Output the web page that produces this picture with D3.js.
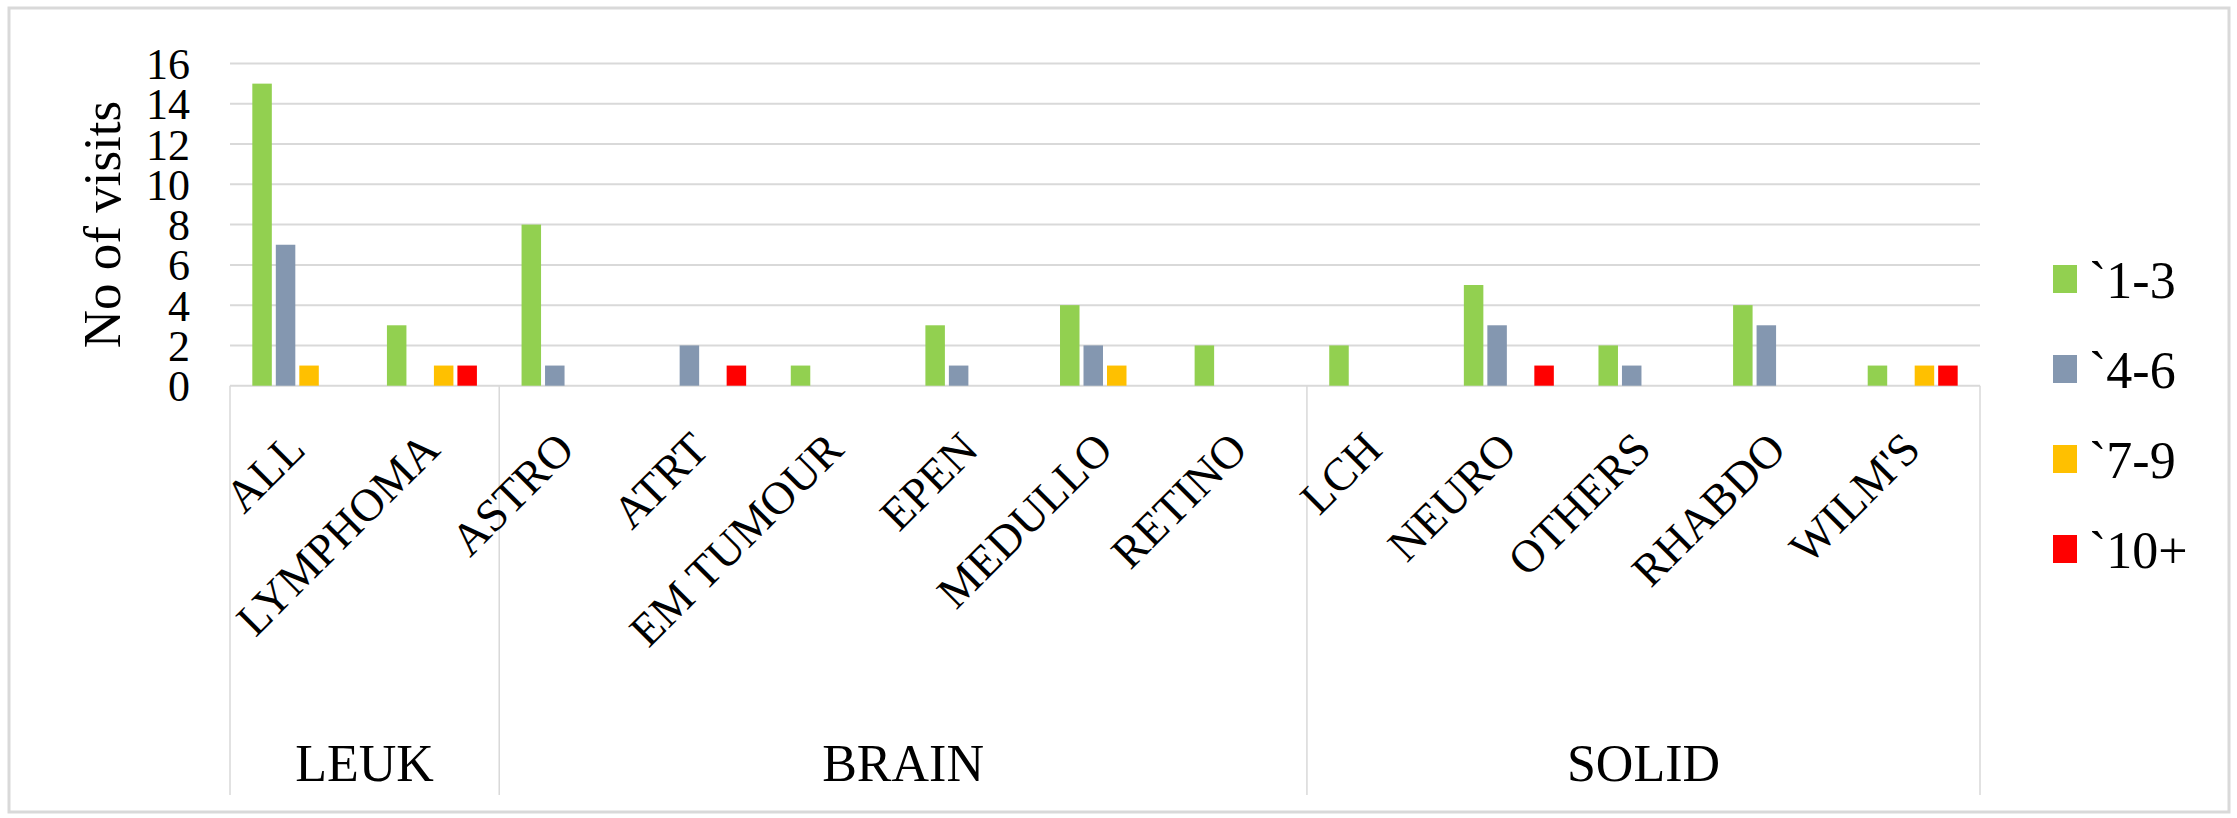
<!DOCTYPE html>
<html>
<head>
<meta charset="utf-8">
<script src="https://cdn.jsdelivr.net/npm/d3@7"></script>
<style>
  html, body { margin: 0; padding: 0; background: #fff; }
  svg { display: block; }
  text { font-family: "Liberation Serif", "Times New Roman", serif; fill: #000; }
</style>
</head>
<body>
<svg id="chart" width="2237" height="818"></svg>
<script>
// Cancer types on the x axis, with the diagnosis group each belongs to
const categories = ["ALL", "LYMPHOMA", "ASTRO", "ATRT", "EM TUMOUR", "EPEN", "MEDULLO", "RETINO", "LCH", "NEURO", "OTHERS", "RHABDO", "WILM'S"];
const categoryGroups = ["LEUK", "LEUK", "BRAIN", "BRAIN", "BRAIN", "BRAIN", "BRAIN", "BRAIN", "SOLID", "SOLID", "SOLID", "SOLID", "SOLID"];
const groups = ["LEUK", "BRAIN", "SOLID"];

// Number of visits, one array per visit-count band
const seriesNames = ["`1-3", "`4-6", "`7-9", "`10+"];
const visits1to3  = [15, 3, 8, 0, 1, 3, 4, 2, 2, 5, 2, 4, 1];
const visits4to6  = [7, 0, 1, 2, 0, 1, 2, 0, 0, 3, 1, 3, 0];
const visits7to9  = [1, 1, 0, 0, 0, 0, 1, 0, 0, 0, 0, 0, 1];
const visits10up  = [0, 1, 0, 1, 0, 0, 0, 0, 0, 1, 0, 0, 1];
const seriesColors = ["#92D050", "#8497B0", "#FFC000", "#FF0000"];

const yTicks = [0, 2, 4, 6, 8, 10, 12, 14, 16];

const seriesValues = [visits1to3, visits4to6, visits7to9, visits10up];

const svg = d3.select("#chart");
const gridColor = "#d9d9d9";

// Plot area
const plot = { left: 230, right: 1980, top: 63.5, bottom: 385.7 };
const axisBottom = 795;

// Outer chart border
svg.append("rect")
  .attr("x", 9).attr("y", 8)
  .attr("width", 2220).attr("height", 804)
  .attr("fill", "#fff")
  .attr("stroke", gridColor)
  .attr("stroke-width", 3);

const x0 = d3.scaleBand()
  .domain(categories)
  .range([plot.left, plot.right])
  .padding(0);

const x1 = d3.scaleBand()
  .domain(seriesNames)
  .range([0, x0.bandwidth()])
  .paddingInner(0.17)
  .paddingOuter(0.95);

const y = d3.scaleLinear()
  .domain([0, 16])
  .range([plot.bottom, plot.top]);

// Horizontal gridlines
svg.append("g")
  .selectAll("line")
  .data(yTicks)
  .join("line")
  .attr("x1", plot.left).attr("x2", plot.right)
  .attr("y1", d => y(d)).attr("y2", d => y(d))
  .attr("stroke", gridColor)
  .attr("stroke-width", 2);

// Y axis tick labels
const yAxis = d3.axisLeft(y).tickValues(yTicks).tickSize(0).tickPadding(0);
const yAxisG = svg.append("g")
  .attr("transform", `translate(${plot.left - 40},0)`)
  .call(yAxis);
yAxisG.select(".domain").remove();
yAxisG.selectAll("text")
  .attr("font-family", "Liberation Serif, Times New Roman, serif")
  .attr("font-size", 44)
  .attr("fill", "#000")
  .attr("dy", "0.34em");

// Y axis title
svg.append("text")
  .attr("transform", `translate(120,${(plot.top + plot.bottom) / 2}) rotate(-90)`)
  .attr("text-anchor", "middle")
  .attr("font-size", 53)
  .text("No of visits");

// Bars
const barData = [];
categories.forEach((c, i) => {
  seriesNames.forEach((s, j) => {
    barData.push({ category: c, series: s, value: seriesValues[j][i], color: seriesColors[j] });
  });
});

svg.append("g")
  .selectAll("rect")
  .data(barData.filter(d => d.value > 0))
  .join("rect")
  .attr("x", d => x0(d.category) + x1(d.series))
  .attr("y", d => y(d.value))
  .attr("width", x1.bandwidth())
  .attr("height", d => y(0) - y(d.value))
  .attr("fill", d => d.color);

// Category axis: vertical separators between groups
const groupBounds = groups.map(g => {
  const idx = categories.map((c, i) => i).filter(i => categoryGroups[i] === g);
  const first = categories[idx[0]];
  const last = categories[idx[idx.length - 1]];
  return { name: g, x0: x0(first), x1: x0(last) + x0.bandwidth() };
});
const sepXs = [groupBounds[0].x0].concat(groupBounds.map(b => b.x1));

svg.append("g")
  .selectAll("line")
  .data(sepXs)
  .join("line")
  .attr("x1", d => d).attr("x2", d => d)
  .attr("y1", y(0)).attr("y2", axisBottom)
  .attr("stroke", gridColor)
  .attr("stroke-width", 1.5);

// Rotated category labels
svg.append("g")
  .selectAll("text")
  .data(categories)
  .join("text")
  .attr("transform", d => `translate(${x0(d) + x0.bandwidth() / 2 + 10},${y(0) + 66}) rotate(-45)`)
  .attr("text-anchor", "end")
  .attr("font-size", 46)
  .text(d => d);

// Group labels
svg.append("g")
  .selectAll("text")
  .data(groupBounds)
  .join("text")
  .attr("x", d => (d.x0 + d.x1) / 2)
  .attr("y", 781)
  .attr("text-anchor", "middle")
  .attr("font-size", 52)
  .text(d => d.name);

// Legend
const legend = svg.append("g")
  .selectAll("g")
  .data(seriesNames)
  .join("g")
  .attr("transform", (d, i) => `translate(2053,${279 + i * 90})`);

legend.append("rect")
  .attr("x", 0).attr("y", -14)
  .attr("width", 24).attr("height", 28)
  .attr("fill", (d, i) => seriesColors[i]);

legend.append("text")
  .attr("x", 36).attr("y", 19)
  .attr("font-size", 52)
  .text(d => d);
</script>
</body>
</html>
